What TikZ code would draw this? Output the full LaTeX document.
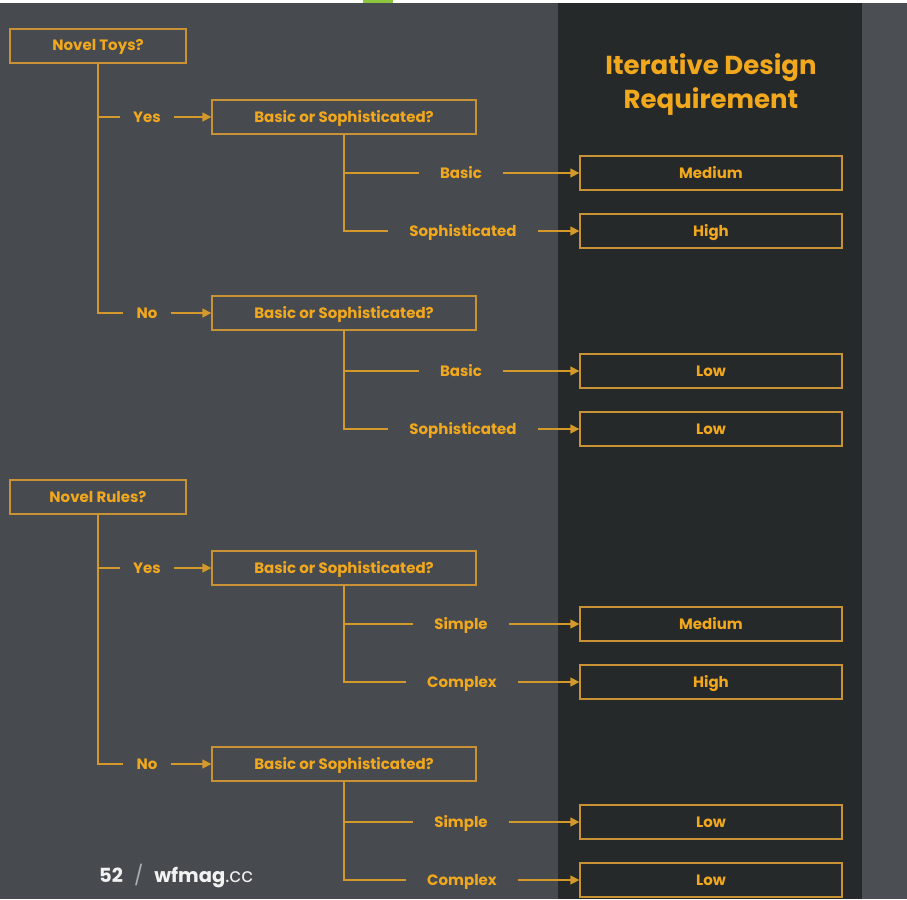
\documentclass[tikz,border=0pt]{standalone}
\usepackage{fontspec}
\setmainfont{Poppins}
\usetikzlibrary{arrows.meta}
\definecolor{bg}{HTML}{474B4F}
\definecolor{panel}{HTML}{26292A}
\definecolor{rside}{HTML}{4B4F53}
\definecolor{topgreen}{HTML}{8DC63F}
\definecolor{linec}{HTML}{D4982B}
\definecolor{boxc}{HTML}{C99235}
\definecolor{txt}{HTML}{F2A81D}
\definecolor{foot}{HTML}{F2F2F2}
\begin{document}
\begin{tikzpicture}[x=1pt,y=-1pt,
  txtfont/.style={font=\bfseries\fontsize{15}{17}\selectfont, text=txt, text height=12pt, text depth=2pt},
  qbox/.style={txtfont, draw=boxc, line width=1.3pt, minimum height=34pt, inner sep=0pt},
  rbox/.style={qbox, minimum width=262pt},
  lab/.style={txtfont, inner ysep=0pt, inner xsep=13pt},
  lab2/.style={txtfont, inner ysep=0pt, inner xsep=21pt},
  conn/.style={draw=linec, line width=1.3pt},
  arr/.style={conn, -{Triangle[length=9pt,width=9pt]}}
]
\useasboundingbox (0,0) rectangle (907,899);
\fill[bg] (0,0) rectangle (907,899);
\fill[rside] (862,3) rectangle (907,899);
\fill[panel] (558,3) rectangle (862,899);
\fill[white] (0,0) rectangle (907,3);
\fill[topgreen] (363,0) rectangle (393,3);

\node[font=\bfseries\fontsize{26}{34}\selectfont, text=txt, align=center] (title) at (711,85) {Iterative Design\\Requirement};

% ---------- Group A: Novel Toys ----------
\node[qbox, minimum width=176pt] (nt) at (98,46) {Novel Toys?};
\node[lab] (yA) at (147,117) {Yes};
\node[lab] (nA) at (147,313) {No};
\node[qbox, minimum width=264pt] (bsA1) at (344,117) {Basic or Sophisticated?};
\node[qbox, minimum width=264pt] (bsA2) at (344,313) {Basic or Sophisticated?};
\node[lab2] (a1) at (461,173) {Basic};
\node[lab2] (a2) at (463,231) {Sophisticated};
\node[lab2] (a3) at (461,371) {Basic};
\node[lab2] (a4) at (463,429) {Sophisticated};
\node[rbox] (ra1) at (711,173) {Medium};
\node[rbox] (ra2) at (711,231) {High};
\node[rbox] (ra3) at (711,371) {Low};
\node[rbox] (ra4) at (711,429) {Low};

\draw[conn] (nt.south) |- (nA.west);
\draw[conn] (nt.south |- yA) -- (yA.west);
\draw[arr] (yA.east) -- (bsA1.west);
\draw[arr] (nA.east) -- (bsA2.west);
\draw[conn] (bsA1.south) |- (a2.west);
\draw[conn] (bsA1.south |- a1) -- (a1.west);
\draw[conn] (bsA2.south) |- (a4.west);
\draw[conn] (bsA2.south |- a3) -- (a3.west);
\draw[arr] (a1.east) -- (ra1.west);
\draw[arr] (a2.east) -- (ra2.west);
\draw[arr] (a3.east) -- (ra3.west);
\draw[arr] (a4.east) -- (ra4.west);

% ---------- Group B: Novel Rules ----------
\node[qbox, minimum width=176pt] (nr) at (98,497) {Novel Rules?};
\node[lab] (yB) at (147,568) {Yes};
\node[lab] (nB) at (147,764) {No};
\node[qbox, minimum width=264pt] (bsB1) at (344,568) {Basic or Sophisticated?};
\node[qbox, minimum width=264pt] (bsB2) at (344,764) {Basic or Sophisticated?};
\node[lab2] (b1) at (461,624) {Simple};
\node[lab2] (b2) at (462,682) {Complex};
\node[lab2] (b3) at (461,822) {Simple};
\node[lab2] (b4) at (462,880) {Complex};
\node[rbox] (rb1) at (711,624) {Medium};
\node[rbox] (rb2) at (711,682) {High};
\node[rbox] (rb3) at (711,822) {Low};
\node[rbox] (rb4) at (711,880) {Low};

\draw[conn] (nr.south) |- (nB.west);
\draw[conn] (nr.south |- yB) -- (yB.west);
\draw[arr] (yB.east) -- (bsB1.west);
\draw[arr] (nB.east) -- (bsB2.west);
\draw[conn] (bsB1.south) |- (b2.west);
\draw[conn] (bsB1.south |- b1) -- (b1.west);
\draw[conn] (bsB2.south) |- (b4.west);
\draw[conn] (bsB2.south |- b3) -- (b3.west);
\draw[arr] (b1.east) -- (rb1.west);
\draw[arr] (b2.east) -- (rb2.west);
\draw[arr] (b3.east) -- (rb3.west);
\draw[arr] (b4.east) -- (rb4.west);

% footer
\node[anchor=west, inner sep=0pt, font=\fontsize{19.5}{22}\selectfont, text=foot] (footer) at (99,876)
  {\bfseries 52\hspace{11pt}\mdseries\textcolor{foot!60!bg}{/}\hspace{11pt}\bfseries wfmag\mdseries.cc};
\end{tikzpicture}
\end{document}
